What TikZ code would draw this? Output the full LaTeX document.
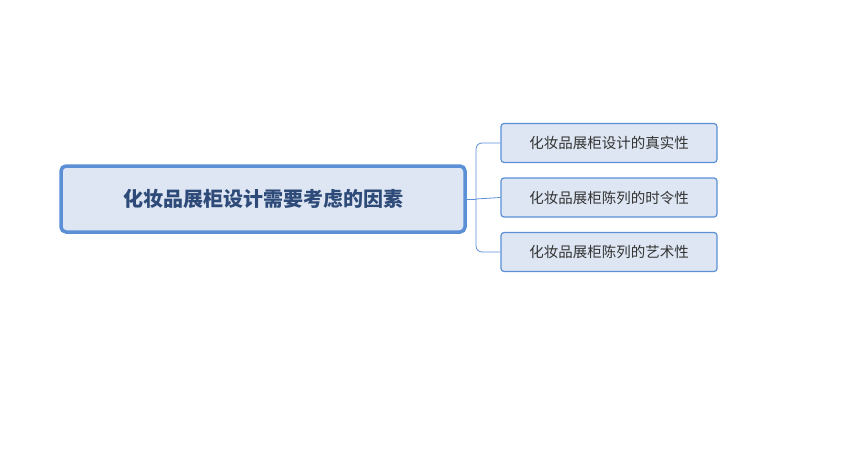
\documentclass[tikz,border=0pt]{standalone}
\usepackage{fontspec}
\newfontfamily\cjk{Noto Sans CJK SC}
\definecolor{bord}{HTML}{5B8FD6}
\definecolor{fillc}{HTML}{DDE6F2}
\definecolor{txt}{HTML}{2E4A78}
\begin{document}
\begin{tikzpicture}[x=1pt,y=-1pt,
  rootbox/.style={draw=bord,line width=3.5pt,fill=fillc,rounded corners=5pt,minimum width=404pt,minimum height=66pt,font=\cjk\fontsize{20}{24}\selectfont\bfseries,text=txt},
  childbox/.style={draw=bord,line width=1.2pt,fill=fillc,rounded corners=3pt,minimum width=216pt,minimum height=39pt,font=\cjk\fontsize{14.5}{18}\selectfont,text=black!80},
  conn/.style={draw=bord,line width=0.8pt,rounded corners=6pt}]
\useasboundingbox (0,0) rectangle (866,458);
\node[rootbox] (r) at (263,199) {化妆品展柜设计需要考虑的因素};
\node[childbox] (c1) at (609,143) {化妆品展柜设计的真实性};
\node[childbox] (c2) at (609,197.5) {化妆品展柜陈列的时令性};
\node[childbox] (c3) at (609,252) {化妆品展柜陈列的艺术性};
\coordinate (j) at (476,199);
\draw[conn] (r.east) -- (j);
\draw[conn] (j) |- (c1.west);
\draw[conn] (j) |- (c3.west);
\draw[conn] (j) -- (c2.west);
\end{tikzpicture}
\end{document}
